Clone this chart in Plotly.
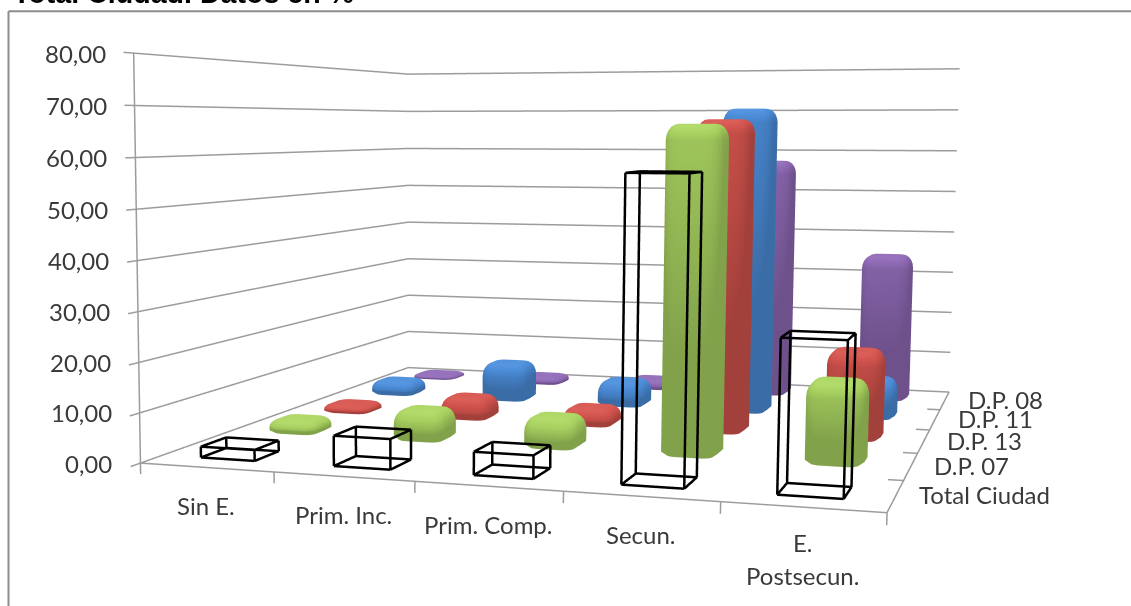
import numpy as np
import plotly.graph_objects as go

categories = [["Sin E."], ["Prim. Inc."], ["Prim. Comp."], ["Secun."], ["E.", "Postsecun."]]
series_names = ["Total Ciudad", "D.P. 07", "D.P. 13", "D.P. 11", "D.P. 08"]
total_ciudad = [2.2, 6.0, 4.5, 57.6, 28.5]
dp07 = [3.0, 6.5, 6.5, 66.5, 16.5]
dp13 = [2.0, 5.0, 4.0, 67.5, 19.0]
dp11 = [3.5, 9.0, 6.0, 70.0, 9.0]
dp08 = [1.3, 2.0, 2.5, 57.5, 35.0]
z_ticks = [0, 10, 20, 30, 40, 50, 60, 70, 80]
z_labels = ["0,00", "10,00", "20,00", "30,00", "40,00", "50,00", "60,00", "70,00", "80,00"]

# Camera of the reference's wide perspective: principal point and focal length need
# a scene larger than the window, so the page is offset by (OX, OY).
EYE = (1.268, -5.082, 0.326)
CENTER = (-0.464, -0.208, -0.265)
UP = (0.002, 0.001, 1.0)
ASPECT = (1.794, 1.964, 1.0)
WF, HF, OX, OY = 1442, 1563, 310.5, 440.2


def rounded_bar(xc, yc, h, wx, wy):
    rx, ry = wx * .26, wy * .26
    rz = min(3.2, h * .6)
    n_c, n_p = 5, 6
    levels = [(0, .45), (min(.8, h * .2), 0.0)]
    levels += [(h - rz + rz * np.sin(t), 1 - np.cos(t)) for t in np.linspace(0, np.pi / 2, n_p)]
    xs, ys, zs = [], [], []
    for z, ins in levels:
        dx = wx / 2 - rx * ins * .8
        dy = wy / 2 - ry * ins * .8
        crx, cry = rx * (1 - .6 * ins), ry * (1 - .6 * ins)
        for q, (sx, sy) in enumerate([(1, 1), (-1, 1), (-1, -1), (1, -1)]):
            for t in np.linspace(0, np.pi / 2, n_c):
                a = t + q * np.pi / 2
                xs.append(xc + sx * (dx - crx) + crx * np.cos(a))
                ys.append(yc + sy * (dy - cry) + cry * np.sin(a))
                zs.append(z)
    m = 4 * n_c
    L = len(levels)
    i, j, k = [], [], []
    for l in range(L - 1):
        for s in range(m):
            a = l * m + s
            b = l * m + (s + 1) % m
            c = (l + 1) * m + s
            d = (l + 1) * m + (s + 1) % m
            i += [a, b]
            j += [b, d]
            k += [c, c]
    top = len(xs)
    xs.append(xc)
    ys.append(yc)
    zs.append(h)
    for s in range(m):
        i.append((L - 1) * m + s)
        j.append((L - 1) * m + (s + 1) % m)
        k.append(top)
    return xs, ys, zs, i, j, k


BW, BD = 0.40, 0.40
WIRE_W, WIRE_D = 0.41, 0.38
colors = ["#A6CF5F", "#D0524C", "#4A8AD4", "#8D68B2"]
light = dict(ambient=.78, diffuse=.32, specular=.12, roughness=.5, fresnel=0,
             facenormalsepsilon=0, vertexnormalsepsilon=0)
fig = go.Figure()
for sj, (vals, col) in enumerate(zip([dp07, dp13, dp11, dp08], colors), start=1):
    X, Y, Z, I, J, K = [], [], [], [], [], []
    for ci, v in enumerate(vals):
        x, y, z, i, j, k = rounded_bar(ci + .5, sj + .5, v, BW, BD)
        o = len(X)
        X += x
        Y += y
        Z += z
        I += [a + o for a in i]
        J += [a + o for a in j]
        K += [a + o for a in k]
    fig.add_trace(go.Mesh3d(x=X, y=Y, z=Z, i=I, j=J, k=K, color=col, flatshading=False, lighting=light,
                            lightposition=dict(x=300, y=-800, z=900), hoverinfo="skip", showscale=False))

wx, wy, wz = [], [], []
for ci, v in enumerate(total_ciudad):
    x0, x1 = ci + .5 - WIRE_W / 2, ci + .5 + WIRE_W / 2
    y0, y1 = .5 - WIRE_D / 2, .5 + WIRE_D / 2
    for a, b in [((x0, y0, 0), (x1, y0, 0)), ((x1, y0, 0), (x1, y1, 0)), ((x1, y1, 0), (x0, y1, 0)), ((x0, y1, 0), (x0, y0, 0)),
                 ((x0, y0, v), (x1, y0, v)), ((x1, y0, v), (x1, y1, v)), ((x1, y1, v), (x0, y1, v)), ((x0, y1, v), (x0, y0, v)),
                 ((x0, y0, 0), (x0, y0, v)), ((x1, y0, 0), (x1, y0, v)), ((x1, y1, 0), (x1, y1, v)), ((x0, y1, 0), (x0, y1, v))]:
        wx += [a[0], b[0], None]
        wy += [a[1], b[1], None]
        wz += [a[2], b[2], None]
fig.add_trace(go.Scatter3d(x=wx, y=wy, z=wz, mode="lines", line=dict(color="#000", width=5), hoverinfo="skip"))

gx, gy, gz = [], [], []
for z in z_ticks:
    gx += [0, 0, 5, None]
    gy += [-.13, 5, 5, None]
    gz += [z, z, z, None]
gx += [0, 0, None, 0, 5, None, 5, 5, None]
gy += [0, 0, None, 0, 0, None, 0, 5, None]
gz += [0, 80, None, 0, 0, None, 0, 0, None]
for i in range(6):
    gx += [i, i, None]
    gy += [0, 0, None]
    gz += [0, -2.2, None]
    gx += [5, 4.9, None]
    gy += [i, i, None]
    gz += [0, 0, None]
fig.add_trace(go.Scatter3d(x=gx, y=gy, z=gz, mode="lines", line=dict(color="#9C9C9C", width=3), hoverinfo="skip"))

ann = []
FONT = "Lato"
TXT = "#3A3A3A"
for z, t in zip(z_ticks, z_labels):
    ann.append(dict(x=0, y=0, z=z, text=t, showarrow=False, xanchor="right", xshift=-26,
                    font=dict(family=FONT, size=24, color=TXT)))
for ci, lines in enumerate(categories):
    for li, t in enumerate(lines):
        ann.append(dict(x=ci + .5, y=0, z=0, text=t, showarrow=False, yshift=-38 - 33 * li + (3 if ci == 4 else 0),
                        font=dict(family=FONT, size=24, color=TXT)))
for sj, t in enumerate(series_names):
    ann.append(dict(x=5, y=sj + .5, z=0, text=t, showarrow=False, xanchor="left", xshift=21, yshift=1,
                    font=dict(family=FONT, size=24, color=TXT)))


def px(v):
    return (v + OX) / WF


def py(v):
    return 1 - (v + OY) / HF


fig.update_layout(
    width=WF, height=HF, margin=dict(l=0, r=0, t=0, b=0), paper_bgcolor="white", showlegend=False,
    scene=dict(
        domain=dict(x=[0, 1], y=[0, 1]),
        xaxis=dict(visible=False, range=[-.5, 5.5]),
        yaxis=dict(visible=False, range=[-.5, 5.5]),
        zaxis=dict(visible=False, range=[-8, 88]),
        aspectmode="manual",
        aspectratio=dict(x=ASPECT[0] * 1.2, y=ASPECT[1] * 1.2, z=ASPECT[2] * 1.2),
        camera=dict(eye=dict(x=EYE[0], y=EYE[1], z=EYE[2]),
                    center=dict(x=CENTER[0], y=CENTER[1], z=CENTER[2]),
                    up=dict(x=UP[0], y=UP[1], z=UP[2]),
                    projection=dict(type="perspective")),
        bgcolor="rgba(0,0,0,0)", annotations=ann),
    shapes=[dict(type="line", xref="paper", yref="paper", x0=px(8), x1=px(8), y0=py(11), y1=py(606),
                 line=dict(color="#8C8C8C", width=2)),
            dict(type="line", xref="paper", yref="paper", x0=px(8), x1=px(1131), y0=py(11), y1=py(11),
                 line=dict(color="#8C8C8C", width=2))],
    annotations=[dict(xref="paper", yref="paper", x=px(10), y=py(10.5), text="<b>Total Ciudad. Datos en %</b>",
                      showarrow=False, xanchor="left", yanchor="bottom",
                      font=dict(family="Liberation Sans", size=28.6, color="#000"))])
fig.write_html("out.html", config=dict(displayModeBar=False),
               post_script="var d=document;d.documentElement.style.overflow='hidden';d.body.style.overflow='hidden';"
                           "d.body.style.margin='0';d.body.style.marginLeft='%dpx';d.body.style.marginTop='%dpx';"
                           % (-round(OX), -round(OY)))
